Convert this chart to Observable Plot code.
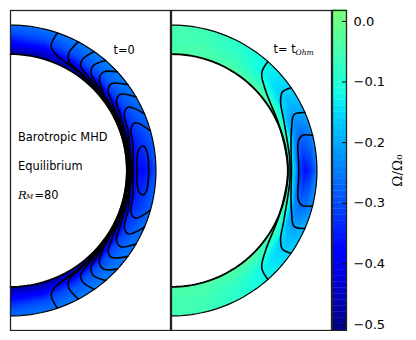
<!DOCTYPE html>
<html>
<head>
<meta charset="utf-8">
<script src="https://cdn.jsdelivr.net/npm/d3@7"></script>
<script src="https://cdn.jsdelivr.net/npm/@observablehq/plot@0.6"></script>
<style>html,body{margin:0;padding:0;background:#fff}#page{position:relative;width:416px;height:340px;overflow:hidden}</style>
</head>
<body>
<div id="page"></div>
<script>
// Colour scale (truncated jet) and colour bar ticks
const colorStops = [-0.51, -0.394, -0.378, -0.151, -0.114, 0.018];
const colorRange = ["#000080", "#0000ff", "#0000ff", "#00dbff", "#14ffe2", "#7aff7a"];
const colorTicks = [0, -0.1, -0.2, -0.3, -0.4, -0.5];
const barLevels = d3.range(-0.51, 0.018, 0.01);

// Field grid: latitude (deg) and radius
const latitudes = [90, 75, 60, 45, 30, 15, 0];
const radii = [0.8, 0.84, 0.88, 0.92, 0.96, 1.0];

// Omega/Omega0 (rows: latitudes, columns: radii)
const fieldStart = [
  [-0.48, -0.44, -0.38, -0.33, -0.29, -0.27],
  [-0.48, -0.44, -0.37, -0.31, -0.28, -0.26],
  [-0.48, -0.44, -0.34, -0.29, -0.27, -0.25],
  [-0.48, -0.44, -0.32, -0.28, -0.26, -0.25],
  [-0.48, -0.44, -0.32, -0.29, -0.27, -0.26],
  [-0.48, -0.44, -0.34, -0.32, -0.30, -0.28],
  [-0.48, -0.44, -0.37, -0.37, -0.34, -0.29]
];
const fieldOhm = [
  [-0.04, -0.045, -0.05, -0.05, -0.05, -0.05],
  [-0.04, -0.045, -0.05, -0.06, -0.06, -0.06],
  [-0.04, -0.05, -0.07, -0.08, -0.09, -0.09],
  [-0.03, -0.06, -0.10, -0.13, -0.13, -0.13],
  [-0.03, -0.09, -0.15, -0.18, -0.18, -0.17],
  [-0.03, -0.12, -0.24, -0.27, -0.26, -0.23],
  [-0.03, -0.16, -0.31, -0.37, -0.33, -0.25]
];

// Contours as [latitude, radius]; each is mirrored about the equator
const contoursStart = [
  [[71.2,1],[71.9,.90],[68.8,.857],[56.6,.825],[40,.808],[20,.802],[0,.80]],
  [[62.2,1],[63.6,.90],[61.9,.853],[52,.825],[35,.81],[15,.804],[0,.803]],
  [[54.9,1],[57.1,.908],[56.1,.864],[47,.83],[30,.812],[15,.807],[0,.806]],
  [[49.1,1],[51.7,.917],[50.2,.866],[42.6,.835],[30,.818],[15,.812],[0,.81]],
  [[42.7,1],[46.6,.933],[46.2,.884],[39.2,.828],[25,.818],[10,.815],[0,.814]],
  [[36.2,1],[40.7,.915],[39.7,.873],[33.7,.84],[20,.822],[0,.819]],
  [[30.4,1],[34.7,.92],[33.5,.874],[26.4,.844],[15,.83],[0,.825]],
  [[22.9,1],[28.2,.923],[26.9,.878],[18.6,.853],[12.4,.838],[0,.832]],
  [[15.8,1],[20.9,.92],[19.5,.881],[10.5,.858],[3,.843],[0,.842]],
  [[0,.95],[5.3,.95],[8.5,.945],[10.4,.931],[9.8,.90],[5.8,.875],[0,.87]]
];
const contoursOhm = [
  [[48.5,1],[47.2,.913],[40,.847],[23,.803],[4.6,.799],[0,.80]],
  [[34.7,1],[35.3,.934],[32.4,.888],[23.6,.844],[6,.817],[0,.815]],
  [[23.5,1],[24.5,.926],[19.5,.876],[12,.84],[0,.825]],
  [[14,1],[15,.931],[13,.895],[4,.876],[0,.875]]
];

const rad = d => d * Math.PI / 180;
const toXY = ([lat, r]) => ({x: r * Math.cos(rad(lat)), y: r * Math.sin(rad(lat))});
const mirror = p => p.concat(p.slice(0, -1).reverse().map(([l, r]) => [-l, r]));

const xMax = 1.1, yMax = 1.1;
const edgeLats = d3.range(-90, 90.5, 2);

function fieldPoints(field) {
  const pts = [];
  latitudes.forEach((lat, i) => {
    const signs = lat === 0 ? [1] : [1, -1];
    signs.forEach(s => {
      radii.forEach((r, j) => pts.push({...toXY([s * lat, r]), v: field[i][j]}));
      pts.push({...toXY([s * lat, 1.07]), v: field[i][radii.length - 1]});
    });
  });
  return pts;
}
function contourPoints(list) {
  return list.flatMap((c, k) => mirror(c).map(p => ({...toXY(p), k})));
}

function panel(field, contours, left, innerWidth, annotations) {
  const outerEdge = edgeLats.map(l => toXY([l, 1]));
  const innerEdge = edgeLats.map(l => toXY([l, 0.8]));
  const outerMask = [...outerEdge, {x: 0, y: 2}, {x: 2, y: 2}, {x: 2, y: -2}, {x: 0, y: -2}];
  return Plot.plot({
    width: 162, height: 322, marginTop: 1, marginBottom: 1, marginLeft: 1, marginRight: 1,
    style: {position: "absolute", left: left + "px", top: "9px", background: "transparent"},
    x: {domain: [0, xMax], axis: null},
    y: {domain: [-yMax, yMax], axis: null},
    color: {type: "linear", domain: colorStops, range: colorRange, clamp: true},
    marks: [
      Plot.raster(fieldPoints(field), {x: "x", y: "y", fill: "v", interpolate: "barycentric",
        x1: 0, x2: xMax, y1: -yMax, y2: yMax, pixelSize: 1}),
      Plot.line(outerMask, {x: "x", y: "y", fill: "white", stroke: "none"}),
      Plot.line(innerEdge, {x: "x", y: "y", fill: "white", stroke: "none"}),
      Plot.line(contourPoints(contours), {x: "x", y: "y", z: "k", stroke: "#000", strokeWidth: 1.6, curve: "catmull-rom"}),
      Plot.line(outerEdge, {x: "x", y: "y", stroke: "#000", strokeWidth: 1.2}),
      Plot.line(innerEdge, {x: "x", y: "y", stroke: "#000", strokeWidth: innerWidth}),
      ...annotations,
      Plot.frame({stroke: "#222", strokeWidth: 1.3})
    ]
  });
}
const font = "DejaVu Sans";
const note = (t, dx, dy, extra = {}) => Plot.text([t], {frameAnchor: "top-left", dx, dy, textAnchor: "start",
  fontFamily: font, fontSize: 11.4, fill: "#000", ...extra});
const mathItalic = {fontFamily: "DejaVu Serif", fontStyle: "italic"};

const page = document.getElementById("page");
page.append(panel(fieldStart, contoursStart, 9, 1.8, [
  note("t=0", 103, 35),
  note("Barotropic MHD", 7.5, 122.5),
  note("Equilibrium", 7.5, 151),
  note("R", 7.5, 180, {...mathItalic, fontSize: 11.5}),
  note("M", 15.5, 184, {...mathItalic, fontSize: 7}),
  note("=80", 24, 180)
]));
page.append(panel(fieldOhm, contoursOhm, 170, 1.9, [
  note("t= t", 102, 34.5),
  note("Ohm", 124, 39, {...mathItalic, fontSize: 7.5}),
]));
page.append(Plot.plot({
  width: 86, height: 322, marginTop: 1, marginBottom: 1, marginLeft: 1, marginRight: 71,
  style: {position: "absolute", left: "331px", top: "9px", background: "transparent"},
  x: {domain: [0, 1], axis: null},
  y: {domain: [-0.51, 0.018], axis: null},
  color: {type: "linear", domain: colorStops, range: colorRange, clamp: true},
  marks: [
    Plot.rect(barLevels, {x1: 0, x2: 1, y1: d => d, y2: d => d + 0.0105, fill: d => d + 0.005}),
    Plot.axisY(colorTicks, {anchor: "right", tickSize: -4, tickPadding: 11, tickFormat: d3.format(".1f"),
      fontSize: 13, fontFamily: font, fill: "#000", stroke: "#000", strokeWidth: 0, label: null}),
    Plot.tickY(colorTicks, {y: d => d, stroke: "#000", strokeWidth: 1, insetLeft: 10, x: undefined}),
    Plot.text(["Ω/Ω₀"], {frameAnchor: "left", dx: 65, rotate: -90, textAnchor: "middle", fontSize: 13.5,
      fontFamily: "DejaVu Serif", fill: "#000"}),
    Plot.frame({stroke: "#222", strokeWidth: 1.3})
  ]
}));
</script>
</body>
</html>
